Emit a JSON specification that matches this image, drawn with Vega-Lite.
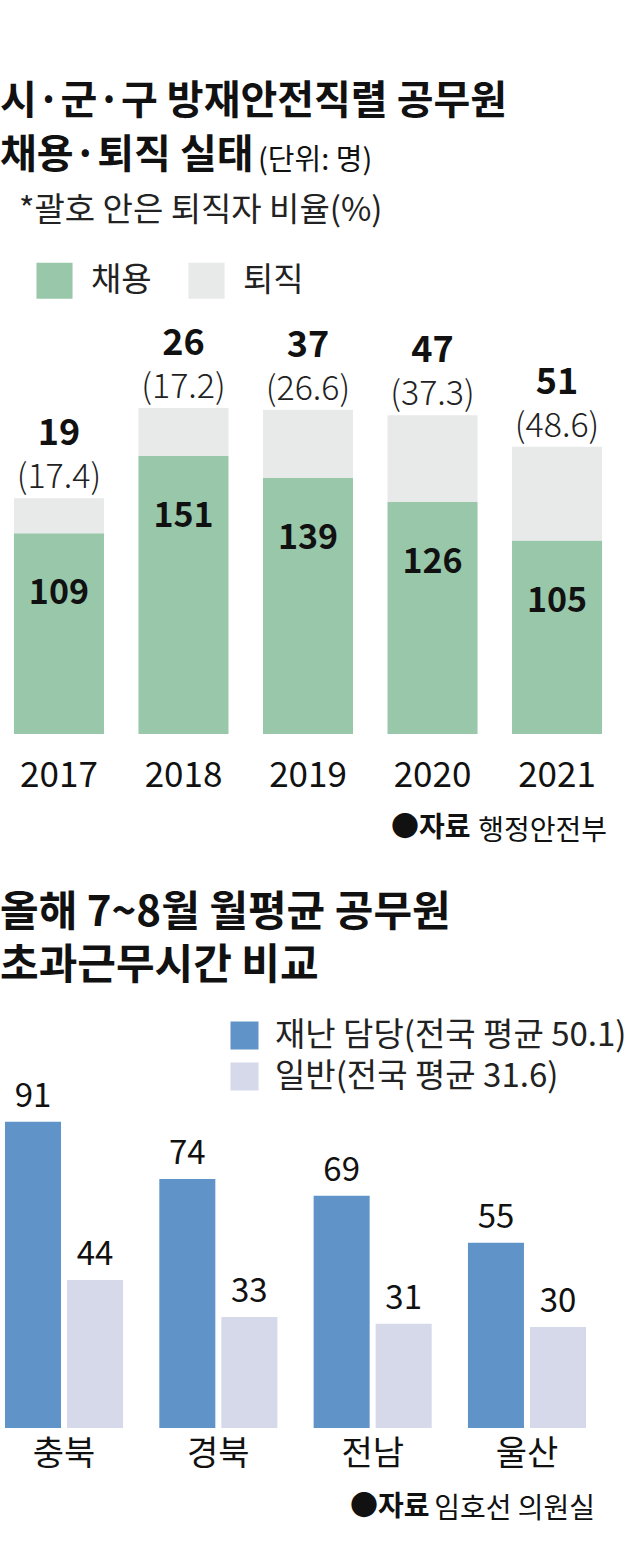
{
  "$schema": "https://vega.github.io/schema/vega-lite/v6.json",
  "padding": {"left": 0, "top": 81, "right": 0, "bottom": 40},
  "autosize": {"type": "pad"},
  "background": "white",
  "spacing": 46,
  "resolve": {"scale": {"color": "independent"}, "legend": {"color": "independent"}},
  "config": {
    "font": "Noto Sans CJK KR",
    "view": {"stroke": null},
    "axis": {"grid": false, "domain": false, "ticks": false, "labelColor": "#111", "titleColor": "#111"},
    "title": {"color": "#111", "font": "Noto Sans CJK KR"},
    "legend": {"labelColor": "#222", "titleColor": "#222"}
  },
  "datasets": {
    "hire": [
      {"year": "2017", "type": "채용", "value": 109, "rate": null},
      {"year": "2017", "type": "퇴직", "value": 19, "rate": 17.4},
      {"year": "2018", "type": "채용", "value": 151, "rate": null},
      {"year": "2018", "type": "퇴직", "value": 26, "rate": 17.2},
      {"year": "2019", "type": "채용", "value": 139, "rate": null},
      {"year": "2019", "type": "퇴직", "value": 37, "rate": 26.6},
      {"year": "2020", "type": "채용", "value": 126, "rate": null},
      {"year": "2020", "type": "퇴직", "value": 47, "rate": 37.3},
      {"year": "2021", "type": "채용", "value": 105, "rate": null},
      {"year": "2021", "type": "퇴직", "value": 51, "rate": 48.6}
    ],
    "overtime": [
      {"region": "충북", "group": "재난 담당", "hours": 91},
      {"region": "충북", "group": "일반", "hours": 44},
      {"region": "경북", "group": "재난 담당", "hours": 74},
      {"region": "경북", "group": "일반", "hours": 33},
      {"region": "전남", "group": "재난 담당", "hours": 69},
      {"region": "전남", "group": "일반", "hours": 31},
      {"region": "울산", "group": "재난 담당", "hours": 55},
      {"region": "울산", "group": "일반", "hours": 30}
    ]
  },
  "vconcat": [
    {
      "title": {"text": ["시·군·구 방재안전직렬 공무원", "채용·퇴직 실태"], "anchor": "start", "fontSize": 40, "fontWeight": "bold", "lineHeight": 54, "offset": -29},
      "vconcat": [
        {
          "title": {"text": "(단위: 명)", "anchor": "start", "fontSize": 29, "fontWeight": "normal", "dx": 258, "offset": 150},
          "vconcat": [
            {
              "width": 616,
              "height": 350,
              "data": {"name": "hire"},
              "title": {"text": "행정안전부", "orient": "bottom", "anchor": "end", "fontSize": 28, "fontWeight": "normal", "offset": -24, "dx": -9},
              "transform": [
                {"stack": "value", "groupby": ["year"], "sort": [{"field": "type"}], "as": ["v0", "v1"]}
              ],
              "encoding": {
                "x": {
                  "field": "year", "type": "ordinal",
                  "scale": {"paddingInner": 0.277, "paddingOuter": 0.112},
                  "axis": {"labelAngle": 0, "labelFontSize": 35, "labelPadding": 24, "title": "●자료", "titleFontSize": 28, "titleFontWeight": "bold", "titleAlign": "right", "titleAnchor": "end", "titleX": 470, "titlePadding": 21}
                }
              },
              "layer": [
                {
                  "mark": {"type": "bar"},
                  "encoding": {
                    "y": {"field": "v0", "type": "quantitative", "scale": {"domain": [0, 190], "nice": false}, "axis": null},
                    "y2": {"field": "v1"},
                    "color": {
                      "field": "type", "type": "nominal",
                      "scale": {"domain": ["채용", "퇴직"], "range": ["#98c7aa", "#e8e9e9"]},
                      "legend": {"orient": "none", "legendX": 19, "legendY": -189, "direction": "horizontal", "columns": 2, "title": "*괄호 안은 퇴직자 비율(%)", "titleFontSize": 33, "titleFontWeight": "normal", "titlePadding": 34, "titleLimit": 600, "symbolType": "square", "symbolSize": 1300, "symbolStrokeWidth": 0, "symbolOpacity": 1, "symbolOffset": 17, "labelFontSize": 33, "labelOffset": 18, "columnPadding": 19, "padding": 0}
                    }
                  }
                },
                {
                  "transform": [{"filter": "datum.type === '채용'"}],
                  "mark": {"type": "text", "fontSize": 34, "fontWeight": "bold", "baseline": "middle", "dy": 61, "color": "#111"},
                  "encoding": {"y": {"field": "v1", "type": "quantitative", "axis": null}, "text": {"field": "value"}}
                },
                {
                  "transform": [{"filter": "datum.type === '퇴직'"}],
                  "mark": {"type": "text", "fontSize": 36, "fontWeight": "bold", "baseline": "middle", "dy": -64, "color": "#111"},
                  "encoding": {"y": {"field": "v1", "type": "quantitative", "axis": null}, "text": {"field": "value"}}
                },
                {
                  "transform": [{"filter": "datum.type === '퇴직'"}, {"calculate": "'(' + format(datum.rate, '.1f') + ')'", "as": "rateLabel"}],
                  "mark": {"type": "text", "fontSize": 34, "fontWeight": 300, "baseline": "middle", "dy": -20, "color": "#222"},
                  "encoding": {"y": {"field": "v1", "type": "quantitative", "axis": null}, "text": {"field": "rateLabel"}}
                }
              ]
            }
          ]
        }
      ]
    },
    {
      "title": {"text": ["올해 7~8월 월평균 공무원", "초과근무시간 비교"], "anchor": "start", "fontSize": 42, "fontWeight": "bold", "lineHeight": 53, "offset": 31},
      "vconcat": [
        {
          "width": 591,
          "height": 340,
          "data": {"name": "overtime"},
          "title": {"text": "임호선 의원실", "orient": "bottom", "anchor": "end", "fontSize": 28, "fontWeight": "normal", "offset": -25, "dx": 4},
          "encoding": {
            "x": {
              "field": "region", "type": "nominal", "sort": ["충북", "경북", "전남", "울산"],
              "scale": {"paddingInner": 0.235, "paddingOuter": 0.0324},
              "axis": {"labelAngle": 0, "labelFontSize": 34, "labelPadding": 9, "title": "●자료", "titleFontSize": 28, "titleFontWeight": "bold", "titleAlign": "right", "titleAnchor": "end", "titleX": 429, "titlePadding": 22}
            },
            "xOffset": {"field": "group", "type": "nominal", "sort": ["재난 담당", "일반"], "scale": {"paddingInner": 0.097}},
            "y": {"field": "hours", "type": "quantitative", "scale": {"domain": [0, 101], "nice": false}, "axis": null}
          },
          "layer": [
            {
              "mark": {"type": "bar"},
              "encoding": {
                "color": {
                  "field": "group", "type": "nominal",
                  "scale": {"domain": ["재난 담당", "일반"], "range": ["#6093c7", "#d5d9ea"]},
                  "legend": {"orient": "none", "legendX": 228, "legendY": -69, "direction": "vertical", "title": null, "symbolType": "square", "symbolSize": 784, "symbolStrokeWidth": 0, "symbolOpacity": 1, "labelFontSize": 33, "labelOffset": 14, "rowPadding": 7, "labelLimit": 500, "padding": 0, "labelExpr": "datum.label === '재난 담당' ? '재난 담당(전국 평균 50.1)' : '일반(전국 평균 31.6)'"}
                }
              }
            },
            {
              "mark": {"type": "text", "fontSize": 33, "baseline": "bottom", "dy": -8, "color": "#111"},
              "encoding": {"text": {"field": "hours"}}
            }
          ]
        }
      ]
    }
  ]
}
